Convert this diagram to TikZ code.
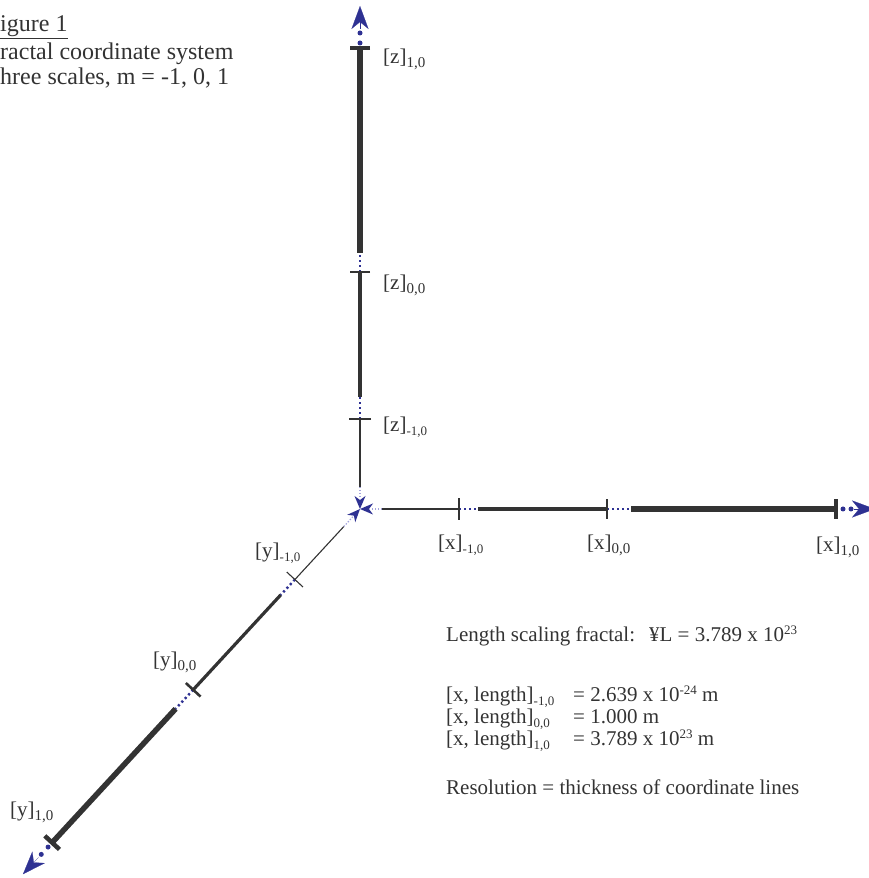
\documentclass[tikz,border=0pt]{standalone}
\usepackage{fontspec}
\setmainfont{Liberation Serif}
\usetikzlibrary{arrows.meta,calc}

\definecolor{axisgray}{HTML}{333333}
\definecolor{dotblue}{HTML}{2E3192}
\definecolor{paleblue}{HTML}{A3A3DC}

\newcommand{\lblfont}{\fontsize{21}{22.5}\selectfont}
\newcommand{\titlefont}{\fontsize{24}{27}\selectfont}
\newcommand{\lowidx}[1]{\raisebox{-4pt}{\fontsize{15}{15}\selectfont #1}}
\newcommand{\minidx}[1]{\raisebox{-3.5pt}{\fontsize{13}{13}\selectfont #1}}
\newcommand{\highidx}[1]{\raisebox{7pt}{\fontsize{13}{13}\selectfont #1}}

\begin{document}
\begin{tikzpicture}[x=1pt, y=1pt,
  thinax/.style={draw=axisgray, line width=1.1pt},
  midax/.style={draw=axisgray, line width=3.2pt},
  thickax/.style={draw=axisgray, line width=5.5pt},
  tickthin/.style={draw=axisgray, line width=1.1pt},
  tickmid/.style={draw=axisgray, line width=2.6pt},
  tickthick/.style={draw=axisgray, line width=4.5pt},
  gap/.style={draw=dotblue, line width=2.4pt, dash pattern=on 2.2pt off 2.8pt},
  enddot/.style={fill=dotblue, draw=none},
  inline/.style={draw=paleblue, line width=1.2pt, dash pattern=on 1.5pt off 1.5pt},
  inhead/.style={fill=dotblue, draw=none},
  outarr/.style={draw=dotblue, line width=0.2pt,
    -{Stealth[length=23pt, width=17pt, inset=7pt, color=dotblue]}},
  lbl/.style={text=axisgray, font=\lblfont, inner sep=0pt, anchor=base west},
  title/.style={text=axisgray, font=\titlefont, inner sep=0pt, anchor=base west}
]
\useasboundingbox (0,0) rectangle (869,878);

\coordinate (O) at (360,369);

% x axis
\path (O) ++(0:10) coordinate (xh)
      (O) ++(0:22) coordinate (xs)
      (O) ++(0:99) coordinate (xt1)
      (O) ++(0:118) coordinate (xm)
      (O) ++(0:247) coordinate (xt2)
      (O) ++(0:271) coordinate (xk)
      (O) ++(0:476) coordinate (xt3)
      (O) ++(0:483) coordinate (xd1)
      (O) ++(0:491) coordinate (xd2)
      (O) ++(0:494) coordinate (xb)
      (O) ++(0:515) coordinate (xtip);
\draw[inline] (xs) -- (xh);
\fill[inhead] (O) -- ($(O)+(0:13)+(90:5.5)$) -- ($(O)+(0:9)$) -- ($(O)+(0:13)+(-90:5.5)$) -- cycle;
\draw[thinax] (xs) -- (xt1);
\draw[gap] (xt1) -- (xm);
\draw[midax] (xm) -- (xt2);
\draw[gap] (xt2) -- (xk);
\draw[thickax] (xk) -- (xt3);
\draw[tickthin] ($(xt1)!11pt!90:(O)$) -- ($(xt1)!11pt!-90:(O)$);
\draw[tickmid] ($(xt2)!10pt!90:(O)$) -- ($(xt2)!10pt!-90:(O)$);
\draw[tickthick] ($(xt3)!10pt!90:(O)$) -- ($(xt3)!10pt!-90:(O)$);
\fill[enddot] (xd1) circle (2.5);
\fill[enddot] (xd2) circle (2.5);
\draw[outarr] (xb) -- (xtip);

% z axis
\path (O) ++(90:10) coordinate (zh)
      (O) ++(90:22) coordinate (zs)
      (O) ++(90:90) coordinate (zt1)
      (O) ++(90:112) coordinate (zm)
      (O) ++(90:237) coordinate (zt2)
      (O) ++(90:256) coordinate (zk)
      (O) ++(90:461) coordinate (zt3)
      (O) ++(90:466) coordinate (zd1)
      (O) ++(90:476) coordinate (zd2)
      (O) ++(90:480) coordinate (zb)
      (O) ++(90:503) coordinate (ztip);
\draw[inline] (zs) -- (zh);
\fill[inhead] (O) -- ($(O)+(90:13)+(180:5.5)$) -- ($(O)+(90:9)$) -- ($(O)+(90:13)+(0:5.5)$) -- cycle;
\draw[thinax] (zs) -- (zt1);
\draw[gap] (zt1) -- (zm);
\draw[midax] (zm) -- (zt2);
\draw[gap] (zt2) -- (zk);
\draw[thickax] (zk) -- (zt3);
\draw[tickthin] ($(zt1)!11pt!90:(O)$) -- ($(zt1)!11pt!-90:(O)$);
\draw[tickmid] ($(zt2)!10pt!90:(O)$) -- ($(zt2)!10pt!-90:(O)$);
\draw[tickthick] ($(zt3)!10pt!90:(O)$) -- ($(zt3)!10pt!-90:(O)$);
\fill[enddot] (zd1) circle (2.5);
\fill[enddot] (zd2) circle (2.5);
\draw[outarr] (zb) -- (ztip);

% y axis
\path (O) ++(227.3:10) coordinate (yh)
      (O) ++(227.3:24) coordinate (ys)
      (O) ++(227.3:96) coordinate (yt1)
      (O) ++(227.3:117) coordinate (ym)
      (O) ++(227.3:246) coordinate (yt2)
      (O) ++(227.3:272) coordinate (yk)
      (O) ++(227.3:454) coordinate (yt3)
      (O) ++(227.3:460) coordinate (yd1)
      (O) ++(227.3:470) coordinate (yd2)
      (O) ++(227.3:474) coordinate (yb)
      (O) ++(227.3:497) coordinate (ytip);
\draw[inline] (ys) -- (yh);
\fill[inhead] (O) -- ($(O)+(227.3:13)+(317.3:5.5)$) -- ($(O)+(227.3:9)$) -- ($(O)+(227.3:13)+(137.3:5.5)$) -- cycle;
\draw[thinax] (ys) -- (yt1);
\draw[gap] (yt1) -- (ym);
\draw[midax] (ym) -- (yt2);
\draw[gap] (yt2) -- (yk);
\draw[thickax] (yk) -- (yt3);
\draw[tickthin] ($(yt1)!11pt!90:(O)$) -- ($(yt1)!11pt!-90:(O)$);
\draw[tickmid] ($(yt2)!10pt!90:(O)$) -- ($(yt2)!10pt!-90:(O)$);
\draw[tickthick] ($(yt3)!10pt!90:(O)$) -- ($(yt3)!10pt!-90:(O)$);
\fill[enddot] (yd1) circle (2.5);
\fill[enddot] (yd2) circle (2.5);
\draw[outarr] (yb) -- (ytip);

% axis labels
\node[lbl] (lz1) at (383,814) {[z]\lowidx{1,0}};
\node[lbl] (lz0) at (383,588) {[z]\lowidx{0,0}};
\node[lbl] (lzm) at (383,446) {[z]\minidx{-1,0}};
\node[lbl] (lxm) at (438,328) {[x]\minidx{-1,0}};
\node[lbl] (lx0) at (587,328) {[x]\lowidx{0,0}};
\node[lbl] (lx1) at (816,326) {[x]\lowidx{1,0}};
\node[lbl] (lym) at (255,320) {[y]\minidx{-1,0}};
\node[lbl] (ly0) at (153,211) {[y]\lowidx{0,0}};
\node[lbl] (ly1) at (10,61) {[y]\lowidx{1,0}};

% title
\node[title] (fig) at (0,846) {\underline{igure 1}};
\node[title] (sys) at (0,818) {ractal coordinate system};
\node[title] (scales) at (0,793) {hree scales, m = -1, 0, 1};

% scaling notes
\node[lbl] (fractal) at (446,236) {Length scaling fractal:\hspace{14pt}¥L = 3.789 x 10\highidx{23}};
\node[lbl] (lenm) at (446,176) {[x, length]\minidx{-1,0}};
\node[lbl] (len0) at (446,154) {[x, length]\minidx{0,0}};
\node[lbl] (len1) at (446,132) {[x, length]\minidx{1,0}};
\node[lbl] (valm) at (573,176) {= 2.639 x 10\highidx{-24} m};
\node[lbl] (val0) at (573,154) {= 1.000 m};
\node[lbl] (val1) at (573,132) {= 3.789 x 10\highidx{23} m};
\node[lbl] (resol) at (446,83) {Resolution = thickness of coordinate lines};

\end{tikzpicture}
\end{document}
